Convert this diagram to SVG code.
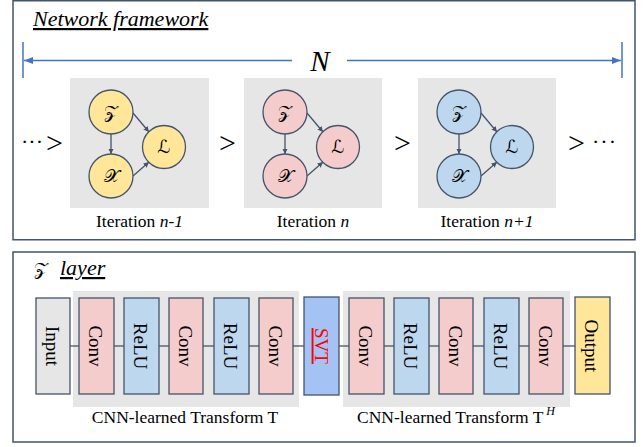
<svg xmlns="http://www.w3.org/2000/svg" width="643" height="447" viewBox="0 0 643 447">
  <style>
    .panel { fill: #ffffff; stroke: #44546A; stroke-width: 1.5; }
    .bg { fill: #E7E6E6; }
    .serif { font-family: "Liberation Serif", "Times New Roman", serif; fill: #000; }
    .title { font-size: 22px; font-style: italic; text-decoration: underline; }
    .cap { font-size: 17.5px; text-anchor: middle; }
    .cap2 { font-size: 17.5px; text-anchor: middle; }
    .gt { font-family: "Liberation Serif", "Times New Roman", serif; font-size: 30px; fill: #000; }
    .dots { font-family: "Liberation Serif", serif; font-size: 22px; fill: #000; }
    .circ { stroke: #44546A; stroke-width: 1.3; }
    .yel { fill: #FFE699; }
    .pink { fill: #F4CCCC; }
    .blue { fill: #BDD7EE; }
    .gray { fill: #E7E6E6; }
    .svtc { fill: #A4C2F4; }
    .sym { font-family: "DejaVu Serif", "DejaVu Sans", serif; font-size: 18px; text-anchor: middle; fill: #000; }
    .blk { stroke: #44546A; stroke-width: 1.3; }
    .lbl { font-family: "Liberation Serif", "Times New Roman", serif; font-size: 19px; text-anchor: middle; fill: #000; }
    .edge { stroke: #44546A; stroke-width: 1.3; fill: none; }
    .dim { stroke: #4472C4; stroke-width: 1.5; fill: none; }
  </style>
  <defs>
    <marker id="ah" viewBox="0 0 10 10" refX="10" refY="5" markerWidth="5.5" markerHeight="5.5" orient="auto" markerUnits="userSpaceOnUse">
      <path d="M0,0 L10,5 L0,10 Z" fill="#44546A"/>
    </marker>
    <marker id="ab" viewBox="0 0 10 10" refX="10" refY="5" markerWidth="9" markerHeight="9" orient="auto" markerUnits="userSpaceOnUse">
      <path d="M0,1 L10,5 L0,9 Z" fill="#4472C4"/>
    </marker>
    <!-- edges shared by every iteration: Z to X, Z to L, X to L -->
    <g id="iterEdges">
      <line class="edge" x1="41" y1="56" x2="41" y2="76" marker-end="url(#ah)"/>
      <line class="edge" x1="63" y1="35" x2="79" y2="54" marker-end="url(#ah)"/>
      <line class="edge" x1="63" y1="98" x2="79" y2="84" marker-end="url(#ah)"/>
    </g>
  </defs>

  <!-- upper panel: network framework -->
  <g id="panel-top">
    <rect class="panel" x="13" y="0.75" width="622" height="239"/>
    <text class="serif title" x="33" y="26">Network framework</text>
  </g>

  <g id="span-N">
    <line class="dim" x1="23" y1="42" x2="23" y2="78"/>
    <line class="dim" x1="622" y1="42" x2="622" y2="78"/>
    <line class="dim" x1="292" y1="60.5" x2="24" y2="60.5" marker-end="url(#ab)"/>
    <line class="dim" x1="347" y1="60.5" x2="621" y2="60.5" marker-end="url(#ab)"/>
    <text class="serif" x="320" y="71" font-size="29" font-style="italic" text-anchor="middle">N</text>
  </g>

  <g id="flow-marks">
    <text class="dots" x="21" y="149">···</text>
    <text class="gt" x="46" y="153">&gt;</text>
    <text class="gt" x="219" y="153">&gt;</text>
    <text class="gt" x="394" y="153">&gt;</text>
    <text class="gt" x="568" y="153">&gt;</text>
    <text class="dots" x="592" y="149" letter-spacing="1">···</text>
  </g>

  <!-- iteration n-1 -->
  <g id="iter-prev" transform="translate(70,78)">
    <rect class="bg" x="0" y="0" width="139" height="130"/>
    <use href="#iterEdges"/>
    <g id="iter-prev-Z"><circle class="circ yel" cx="41" cy="34" r="22"/><text class="sym" x="41" y="40">𝒵</text></g>
    <g id="iter-prev-X"><circle class="circ yel" cx="41" cy="98" r="22"/><text class="sym" x="41" y="104">𝒳</text></g>
    <g id="iter-prev-L"><circle class="circ yel" cx="94" cy="69" r="21.5"/><text class="sym" x="94" y="75">ℒ</text></g>
  </g>
  <text class="serif cap" x="139.5" y="227">Iteration <tspan font-style="italic">n-1</tspan></text>

  <!-- iteration n -->
  <g id="iter-cur" transform="translate(244,78)">
    <rect class="bg" x="0" y="0" width="138" height="130"/>
    <use href="#iterEdges"/>
    <g id="iter-cur-Z"><circle class="circ pink" cx="41" cy="34" r="22"/><text class="sym" x="41" y="40">𝒵</text></g>
    <g id="iter-cur-X"><circle class="circ pink" cx="41" cy="98" r="22"/><text class="sym" x="41" y="104">𝒳</text></g>
    <g id="iter-cur-L"><circle class="circ pink" cx="94" cy="69" r="21.5"/><text class="sym" x="94" y="75">ℒ</text></g>
  </g>
  <text class="serif cap" x="313" y="227">Iteration <tspan font-style="italic">n</tspan></text>

  <!-- iteration n+1 -->
  <g id="iter-next" transform="translate(418,78)">
    <rect class="bg" x="0" y="0" width="138" height="130"/>
    <use href="#iterEdges"/>
    <g id="iter-next-Z"><circle class="circ blue" cx="41" cy="34" r="22"/><text class="sym" x="41" y="40">𝒵</text></g>
    <g id="iter-next-X"><circle class="circ blue" cx="41" cy="98" r="22"/><text class="sym" x="41" y="104">𝒳</text></g>
    <g id="iter-next-L"><circle class="circ blue" cx="94" cy="69" r="21.5"/><text class="sym" x="94" y="75">ℒ</text></g>
  </g>
  <text class="serif cap" x="487" y="227">Iteration <tspan font-style="italic">n+1</tspan></text>

  <!-- lower panel: Z layer -->
  <g id="panel-bottom">
    <rect class="panel" x="13" y="252" width="622" height="190"/>
    <text class="sym" x="41" y="275" font-size="16">𝒵</text>
    <text class="serif title" x="60" y="275">layer</text>
  </g>

  <g id="transform-T">
    <rect class="bg" x="73" y="291" width="226" height="116"/>
    <text class="serif cap2" x="185" y="423">CNN-learned Transform T</text>
  </g>
  <g id="transform-TH">
    <rect class="bg" x="343" y="291" width="227" height="116"/>
    <text class="serif cap2" x="456" y="423">CNN-learned Transform T<tspan font-style="italic" font-size="12" dy="-8" dx="3">H</tspan></text>
  </g>

  <g id="connectors">
    <line class="edge" x1="70" y1="346" x2="79" y2="346"/>
    <line class="edge" x1="114" y1="346" x2="124" y2="346"/>
    <line class="edge" x1="159" y1="346" x2="169" y2="346"/>
    <line class="edge" x1="203" y1="346" x2="214" y2="346"/>
    <line class="edge" x1="249" y1="346" x2="259" y2="346"/>
    <line class="edge" x1="293" y1="346" x2="304" y2="346"/>
    <line class="edge" x1="339" y1="346" x2="349" y2="346"/>
    <line class="edge" x1="384" y1="346" x2="394" y2="346"/>
    <line class="edge" x1="429" y1="346" x2="439" y2="346"/>
    <line class="edge" x1="473" y1="346" x2="484" y2="346"/>
    <line class="edge" x1="519" y1="346" x2="529" y2="346"/>
    <line class="edge" x1="563" y1="346" x2="575" y2="346"/>
  </g>

  <g id="input"><rect class="blk gray" x="36" y="298" width="34" height="96"/><text class="lbl" transform="translate(45.5,346) rotate(90)">Input</text></g>
  <g id="conv1"><rect class="blk pink" x="79" y="298" width="35" height="96"/><text class="lbl" transform="translate(89,346) rotate(90)">Conv</text></g>
  <g id="relu1"><rect class="blk blue" x="124" y="298" width="35" height="96"/><text class="lbl" transform="translate(134,346) rotate(90)">ReLU</text></g>
  <g id="conv2"><rect class="blk pink" x="169" y="298" width="34" height="96"/><text class="lbl" transform="translate(178.5,346) rotate(90)">Conv</text></g>
  <g id="relu2"><rect class="blk blue" x="214" y="298" width="35" height="96"/><text class="lbl" transform="translate(224,346) rotate(90)">ReLU</text></g>
  <g id="conv3"><rect class="blk pink" x="259" y="298" width="34" height="96"/><text class="lbl" transform="translate(268.5,346) rotate(90)">Conv</text></g>
  <g id="svt"><rect class="blk svtc" x="304" y="297" width="35" height="98"/><text class="lbl" transform="translate(314.5,346) rotate(90)" style="fill:#FF0000;text-decoration:underline">SVT</text></g>
  <g id="conv4"><rect class="blk pink" x="349" y="298" width="35" height="96"/><text class="lbl" transform="translate(359,346) rotate(90)">Conv</text></g>
  <g id="relu3"><rect class="blk blue" x="394" y="298" width="35" height="96"/><text class="lbl" transform="translate(404,346) rotate(90)">ReLU</text></g>
  <g id="conv5"><rect class="blk pink" x="439" y="298" width="34" height="96"/><text class="lbl" transform="translate(448.5,346) rotate(90)">Conv</text></g>
  <g id="relu4"><rect class="blk blue" x="484" y="298" width="35" height="96"/><text class="lbl" transform="translate(494,346) rotate(90)">ReLU</text></g>
  <g id="conv6"><rect class="blk pink" x="529" y="298" width="34" height="96"/><text class="lbl" transform="translate(538.5,346) rotate(90)">Conv</text></g>
  <g id="output"><rect class="blk yel" x="575" y="297" width="35" height="97"/><text class="lbl" transform="translate(585,346) rotate(90)">Output</text></g>
</svg>
